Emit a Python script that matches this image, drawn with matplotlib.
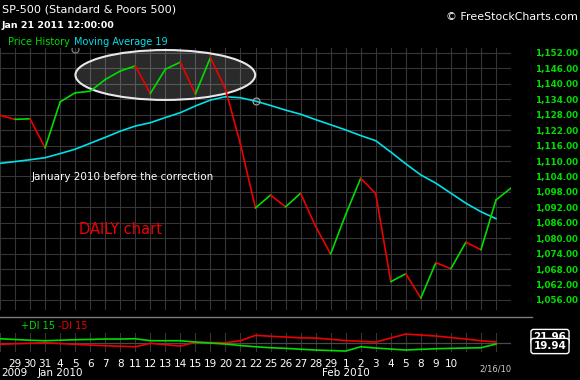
import matplotlib
matplotlib.use("Agg")
import matplotlib.pyplot as plt
from matplotlib.patches import Ellipse
from matplotlib.lines import Line2D
import matplotlib.transforms as mtransforms

# daily closes Dec 28 2009 .. Feb 17 2010
dates = ["", "29", "30", "31", "4", "5", "6", "7", "8", "11", "12", "13", "14", "15",
         "19", "20", "21", "22", "25", "26", "27", "28", "29", "1", "2", "3", "4", "5",
         "8", "9", "10", "", "", "", ""]
price = [1127.78, 1126.20, 1126.42, 1115.10, 1132.99, 1136.52, 1137.14, 1141.69, 1144.98,
         1146.98, 1136.22, 1145.68, 1148.46, 1136.03, 1150.23, 1138.04, 1116.48, 1091.76,
         1096.78, 1092.17, 1097.50, 1084.53, 1073.87, 1089.19, 1103.32, 1097.28, 1063.11,
         1066.19, 1056.74, 1070.52, 1068.13, 1078.47, 1075.51, 1094.87, 1099.51]
ma19 = [1109.1, 1109.8, 1110.5, 1111.3, 1112.9, 1114.6, 1116.9, 1119.2, 1121.6, 1123.6,
        1124.9, 1126.9, 1128.8, 1131.4, 1133.7, 1135.0, 1134.6, 1133.3, 1131.6, 1129.8,
        1128.2, 1126.1, 1124.1, 1122.1, 1119.9, 1117.9, 1113.5, 1108.9, 1104.6, 1101.4,
        1097.5, 1093.6, 1090.3, 1087.6]
di_plus = [25.2, 24.4, 23.7, 23.2, 23.7, 24.2, 24.5, 24.9, 24.9, 25.2, 23.2, 23.2, 23.2,
           21.9, 20.9, 19.9, 18.4, 17.2, 16.2, 15.6, 14.7, 13.9, 13.4, 12.9, 17.2, 15.9,
           14.9, 13.9, 14.6, 15.2, 15.6, 15.9, 16.2, 19.94]
di_minus = [19.6, 20.2, 20.7, 21.2, 20.4, 19.6, 18.9, 18.2, 17.7, 17.2, 20.6, 19.3, 17.9,
            21.6, 21.4, 21.2, 23.2, 28.6, 27.7, 26.9, 26.1, 25.9, 24.6, 23.4, 22.6, 21.9,
            25.9, 29.9, 28.9, 27.9, 26.4, 24.9, 23.2, 21.96]
yticks = list(range(1056, 1153, 6))

W, H = 580, 380
def fx(px):
    return px / W
def fy(py):
    return 1 - py / H

GREEN = "#00dd00"
RED = "#ee0000"
CYAN = "#00e0e8"
GRID = "#363636"

fig = plt.figure(figsize=(5.8, 3.8), dpi=100, facecolor="black")

# main price panel
ax = fig.add_axes([0, fy(310), fx(511), (310 - 48) / H])
ax.set_facecolor("black")
ax.set_xlim(0, 33.33)
ax.set_ylim(1052.1, 1153.94)
for s in ax.spines.values():
    s.set_visible(False)
ax.set_xticks(range(len(price)))
ax.set_xticklabels([])
ax.set_yticks(yticks, [f"{v:,.2f}" for v in yticks], fontweight="bold")
ax.tick_params(axis="x", length=0)
ax.tick_params(axis="y", length=0, pad=17, labelcolor=GREEN, labelsize=6.3,
               left=False, labelleft=False, right=True, labelright=True)
ax.grid(True, color=GRID, lw=0.8)
ax.set_axisbelow(True)

ell = Ellipse((11.0, 1143.45), 11.96, 19.4, facecolor=(1, 1, 1, 0.17),
              edgecolor="#e8e8e8", lw=1.5, zorder=1.5)
ax.add_patch(ell)

ax.plot(range(len(ma19)), ma19, color=CYAN, lw=1.2, zorder=3)
ax.plot(17, ma19[17], "o", ms=5, mfc="none", mec="#aaaaaa", mew=0.8, zorder=4)
ax.plot(5, 1153.6, "o", ms=5, mfc="none", mec="#888888", mew=0.8, zorder=4)

# colour each segment by direction
for i in range(1, len(price)):
    c = GREEN if price[i] >= price[i - 1] else RED
    ax.plot([i - 1, i], [price[i - 1], price[i]], color=c, lw=1.2,
            solid_capstyle="round", zorder=3)

# DI panel
ax2 = fig.add_axes([0, fy(352), fx(511), 19 / H])
ax2.set_facecolor("black")
ax2.set_xlim(0, 33.33)
ax2.set_ylim(11.94, 30.94)
for s in ax2.spines.values():
    s.set_visible(False)
ax2.set_xticks(range(len(dates)), dates)
ax2.set_yticks([21.2], [""])
ax2.tick_params(axis="x", length=0, pad=5, labelcolor="white", labelsize=7.5)
ax2.tick_params(axis="y", length=0)
ax2.grid(True, color=GRID, lw=0.8)
ax2.grid(True, axis="y", color="#4a4a4a", lw=0.9)
ax2.set_axisbelow(True)
ax2.plot(range(len(di_minus)), di_minus, color=RED, lw=1.2)
ax2.plot(range(len(di_plus)), di_plus, color=GREEN, lw=1.2)

trans = mtransforms.blended_transform_factory(ax2.transData, fig.transFigure)
fig.text(fx(1), fy(373), "2009", color="white", fontsize=7.5, va="center")
ax2.text(4, fy(373), "Jan 2010", color="white", fontsize=7.5, ha="center", va="center",
         transform=trans)
ax2.text(23, fy(373), "Feb 2010", color="white", fontsize=7.5, ha="center", va="center",
         transform=trans)
fig.text(fx(495), fy(369), "2/16/10", color="#cccccc", fontsize=6, ha="center", va="center")

# separator between panels
fig.add_artist(Line2D([0, fx(532)], [fy(317), fy(317)], color="#7a7a7a", lw=1,
                      transform=fig.transFigure))

# header texts
fig.text(fx(2), fy(9), "SP-500 (Standard & Poors 500)", color="white", fontsize=8.1,
         va="center")
fig.text(fx(2), fy(25), "Jan 21 2011 12:00:00", color="white", fontsize=6.8,
         fontweight="bold", va="center")
fig.text(fx(8), fy(42), "Price History", color=GREEN, fontsize=7, va="center")
fig.text(fx(74), fy(42), "Moving Average 19", color=CYAN, fontsize=7, va="center")
fig.text(fx(578), fy(17), "\u00a9 FreeStockCharts.com", color="white", fontsize=7.9,
         ha="right", va="center")
fig.text(fx(21), fy(326), "+DI 15", color=GREEN, fontsize=7, va="center")
fig.text(fx(58), fy(326), "-DI 15", color=RED, fontsize=7, va="center")

fig.text(fx(32), fy(177), "January 2010 before the correction", color="white",
         fontsize=7.5, va="center")
fig.text(fx(79), fy(230), "DAILY chart", color=RED, fontsize=10.5, va="center")

# last value boxes
box = dict(boxstyle="round,pad=0.25", fc="black", ec="white", lw=1)
fig.text(fx(550), fy(337), f"{di_minus[-1]:.2f}", color="white", fontsize=7.5,
         fontweight="bold", ha="center", va="center", bbox=box)
fig.text(fx(550), fy(346), f"{di_plus[-1]:.2f}", color="white", fontsize=7.5,
         fontweight="bold", ha="center", va="center", bbox=box)

fig.savefig("out.png", dpi=100, facecolor="black")
